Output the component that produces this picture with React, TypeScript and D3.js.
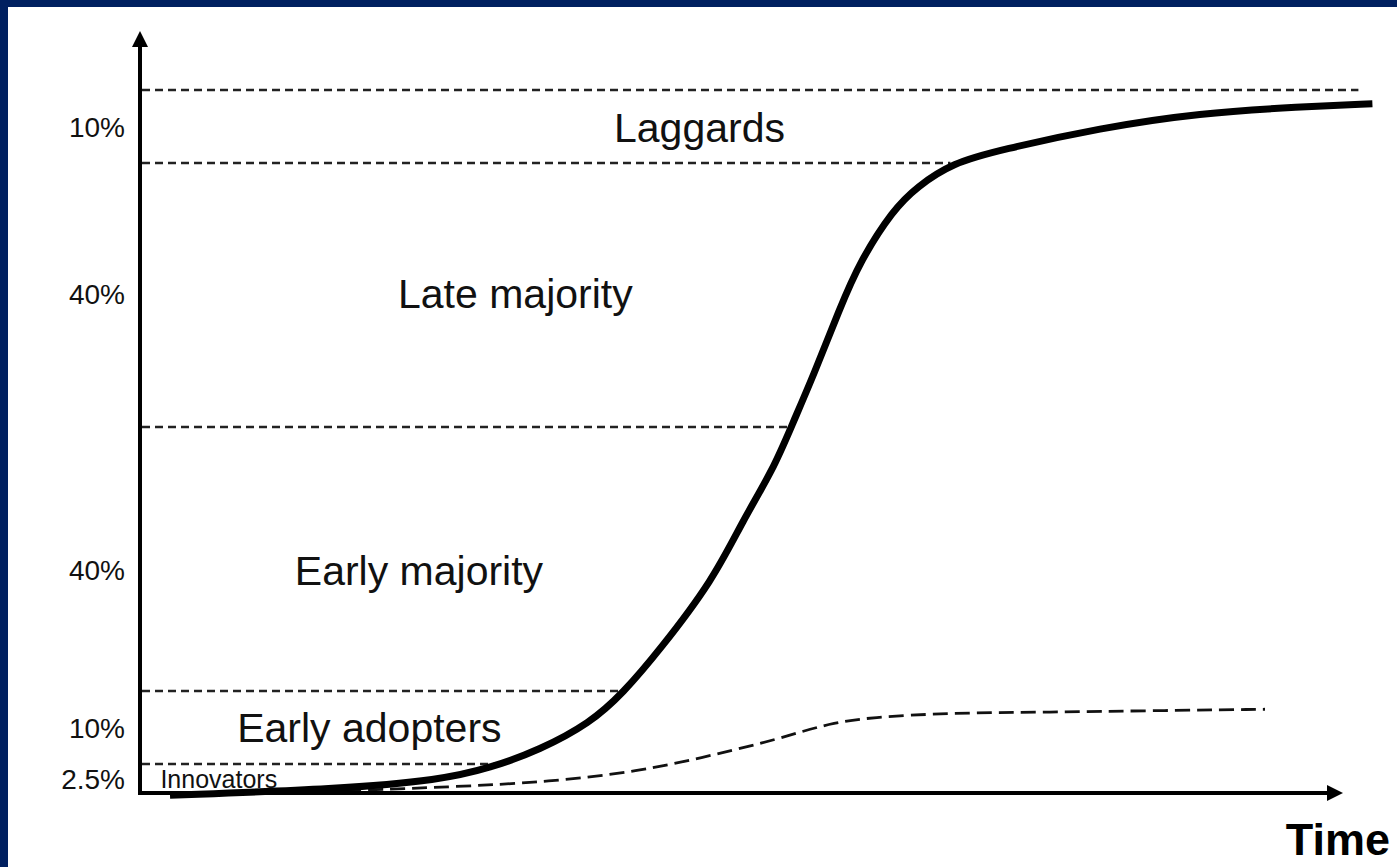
import React from "react";
import * as d3 from "d3";

// adopter categories, bottom to top
const segments = ["Innovators", "Early adopters", "Early majority", "Late majority", "Laggards"];
const shares = [2.5, 10, 40, 40, 10];
const shareLabels = ["2.5%", "10%", "40%", "40%", "10%"];
// time at which each category name starts, and the level its row of text sits at
const segmentLabelTime = [1.7, 8.1, 12.9, 21.5, 39.5];
const segmentLabelLevel = [1.2, 7.4, 30.7, 72.6, 97.3];

// cumulative adoption (solid S-curve)
const adoptionTime = [2.5, 16.7, 25, 29.2, 33.3, 37.5, 40.25, 43.3, 47.75, 50.25, 52.75, 54.4, 56.1, 58.3, 60, 62.75, 64.75, 67.7, 71.7, 80, 88.3, 96.7, 102.7];
const adoption = [-0.2, 0.34, 1.12, 2.16, 4.42, 8.1, 12.2, 18.7, 29.3, 38.4, 46, 53.1, 60.2, 70.4, 77.6, 85.4, 88.9, 92.5, 94.3, 97.3, 99.35, 100.2, 100.6];

// market share (dashed curve)
const shareTime = [2.5, 16.7, 25.8, 34.2, 41.7, 46.7, 52.25, 55.25, 57.75, 60.8, 67.5, 75.8, 84.2, 93.75];
const marketShare = [-0.17, 0.17, 0.52, 0.95, 1.9, 3.32, 5.5, 7.0, 8.1, 8.9, 9.5, 9.6, 9.8, 10.0];

const topLineEnd = 101.7; // the top boundary is never reached by the curve
const axisTitle = "Time";

const W = 1397;
const H = 867;
const font = "'Liberation Sans', Arial, sans-serif";

export default function App() {
  const levels = [0, ...Array.from(d3.cumsum(shares))];
  // band heights in px, bottom to top (the figure is schematic, not to scale)
  const bandPx = [29, 73, 264, 264, 73];
  const yRange = [793, ...Array.from(d3.cumsum(bandPx)).map((d) => 793 - d)];

  const x = d3.scaleLinear().domain([0, 100]).range([140, 1340]);
  const y = d3.scaleLinear().domain(levels).range(yRange);

  const adoptionPts = adoptionTime.map((t, i) => [t, adoption[i]] as [number, number]);
  const sharePts = shareTime.map((t, i) => [t, marketShare[i]] as [number, number]);

  const line = d3
    .line<[number, number]>()
    .x((d) => x(d[0]))
    .y((d) => y(d[1]))
    .curve(d3.curveBasis);

  // where the S-curve crosses a level
  const crossing = (level: number) => {
    for (let i = 0; i < adoption.length - 1; i++) {
      if (adoption[i] <= level && adoption[i + 1] > level) {
        const f = (level - adoption[i]) / (adoption[i + 1] - adoption[i]);
        return adoptionTime[i] + f * (adoptionTime[i + 1] - adoptionTime[i]);
      }
    }
    return topLineEnd;
  };

  const x0 = x(0);
  const y0 = y(0);
  const xTip = x(100) + 3;
  const yTip = y(levels[levels.length - 1]) - 59;

  return (
    <div style={{ position: "absolute", left: 0, top: 0 }}>
      <svg width={W} height={H} style={{ display: "block" }}>
        <rect width={W} height={H} fill="#002060" />
        <rect x={8} y={7} width={W - 8} height={H - 7} fill="#ffffff" />

        {/* boundaries between categories */}
        {levels.slice(1).map((lv, i) => (
          <line
            key={"b" + i}
            x1={x0 + 2}
            x2={x(crossing(lv)) - 2}
            y1={y(lv)}
            y2={y(lv)}
            stroke="#222"
            strokeWidth={2.5}
            strokeDasharray="8,5"
          />
        ))}

        {/* market share */}
        <path d={line(sharePts) || ""} fill="none" stroke="#111" strokeWidth={2.8} strokeDasharray="15,7" />

        {/* cumulative adoption */}
        <path d={line(adoptionPts) || ""} fill="none" stroke="#000" strokeWidth={7} />

        {/* axes */}
        <path
          d={`M${x0},${yTip + 14}V${y0}H${xTip - 14}`}
          fill="none"
          stroke="#000"
          strokeWidth={4}
          strokeLinejoin="miter"
        />
        <path d={`M${x0},${yTip}L${x0 - 8},${yTip + 16}L${x0 + 8},${yTip + 16}Z`} fill="#000" />
        <path d={`M${xTip},${y0}L${xTip - 16},${y0 - 8}L${xTip - 16},${y0 + 8}Z`} fill="#000" />

        {/* share labels */}
        {shareLabels.map((s, i) => (
          <text
            key={"s" + i}
            x={x0 - 15}
            y={y(segmentLabelLevel[i])}
            textAnchor="end"
            dominantBaseline="central"
            fontFamily={font}
            fontSize={28}
            fill="#111"
          >
            {s}
          </text>
        ))}

        {/* category names */}
        {segments.map((s, i) => (
          <text
            key={"n" + i}
            x={x(segmentLabelTime[i])}
            y={y(segmentLabelLevel[i])}
            dominantBaseline="central"
            fontFamily={font}
            fontSize={i === 0 ? 25 : 41}
            fill="#111"
          >
            {s}
          </text>
        ))}

        <text x={1390} y={855} textAnchor="end" fontFamily={font} fontSize={45} fontWeight="bold" fill="#000">
          {axisTitle}
        </text>
      </svg>
    </div>
  );
}
